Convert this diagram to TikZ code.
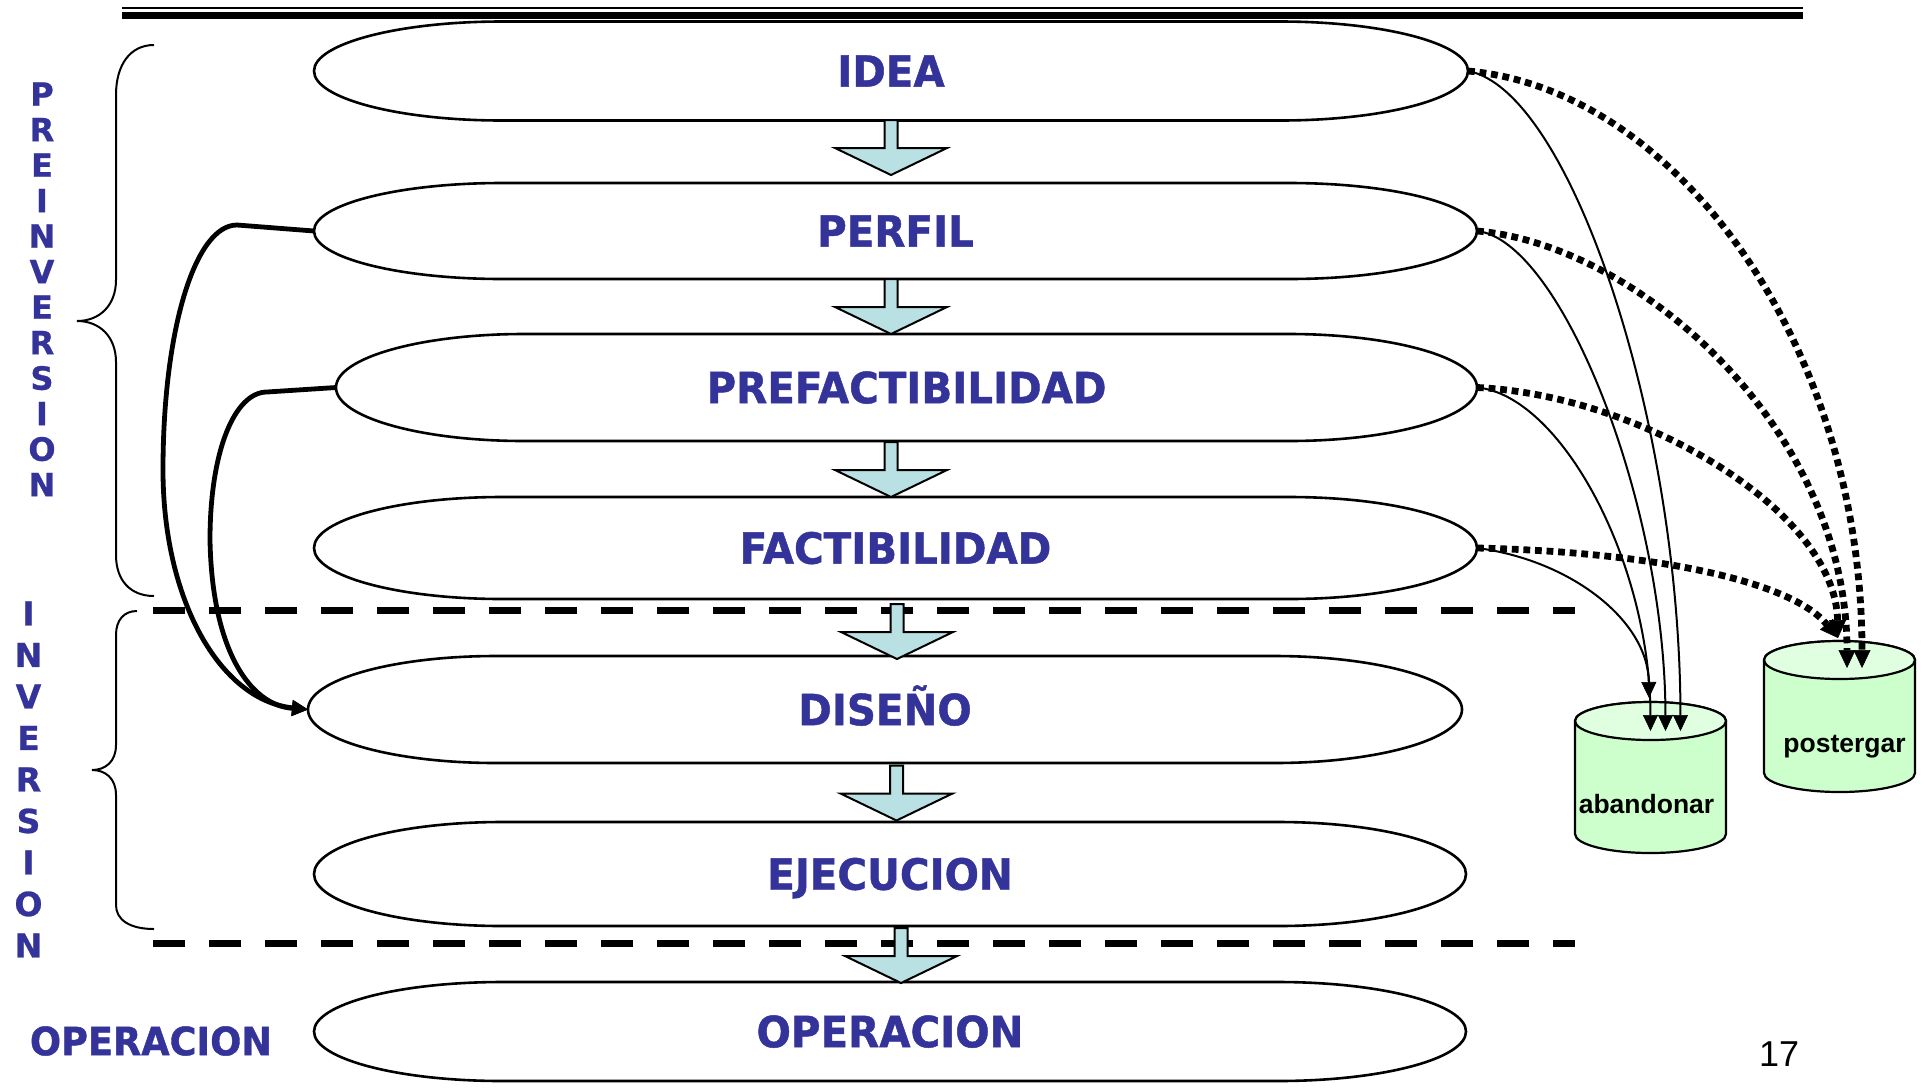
\documentclass[tikz,border=0pt]{standalone}
\usepackage{fontspec}
\setmainfont{Liberation Sans}
\newfontfamily\lblfont{DejaVu Sans}[FakeStretch=0.94,FakeBold=1]
\newfontfamily\vfont{DejaVu Sans}[FakeBold=0.8]
\usetikzlibrary{arrows.meta,calc}
\definecolor{lbl}{HTML}{333399}
\definecolor{arrfill}{HTML}{B9E1E3}
\definecolor{cylbody}{HTML}{CCFFCC}
\definecolor{cyltop}{HTML}{E0FFE0}
\newcommand\pillout[1]{%
  \draw[pillline] let \p1=(#1.north), \p2=(#1.south), \n1={(\y1-\y2)/2} in
    ([xshift=94pt]#1.north west) -- ([xshift=-94pt]#1.north east)
    arc[start angle=90,end angle=-90,x radius=94pt,y radius=\n1]
    -- ([xshift=94pt]#1.south west)
    arc[start angle=270,end angle=90,x radius=94pt,y radius=\n1] -- cycle;}
\newcommand\cylout[1]{%
  \draw[cylline,fill=cylbody] ([yshift=-9.5pt]#1.north west) -- ([yshift=9.5pt]#1.south west)
    arc[start angle=180,end angle=360,x radius=37.75pt,y radius=9.5pt]
    -- ([yshift=-9.5pt]#1.north east)
    arc[start angle=0,end angle=180,x radius=37.75pt,y radius=9.5pt] -- cycle;
  \draw[cylline,fill=cyltop] ([yshift=-9.5pt]#1.north) ellipse[x radius=37.75pt,y radius=9.5pt];}
\begin{document}
\begin{tikzpicture}[x=0.5pt,y=-0.5pt,
  pill/.style={rectangle,inner sep=0pt,outer sep=0pt,text height=15.7pt,text depth=0pt,
    font=\lblfont\bfseries\fontsize{21.5}{24}\selectfont,text=lbl},
  pillline/.style={line width=1.3pt},
  cylbox/.style={rectangle,inner sep=0pt,outer sep=0pt,minimum width=75.5pt,minimum height=75.5pt},
  cylline/.style={line width=1.1pt},
  cyltext/.style={inner sep=0pt,font=\bfseries\fontsize{13.25}{15}\selectfont},
  sepline/.style={line width=3.5pt,dash pattern=on 16pt off 12pt},
  braceline/.style={line width=1pt},
  thinconn/.style={line width=1pt,-{Triangle[length=8pt,width=7.5pt,line width=0.3pt]}},
  dotconn/.style={line width=3.4pt,dash pattern=on 3.4pt off 2.4pt,-{Triangle[length=9pt,width=8.5pt,line width=0.3pt]}},
  thickconn/.style={line width=2.4pt,-{Triangle[length=8pt,width=8pt,line width=0.3pt]}},
  downblock/.pic={\draw[line width=1pt,fill=arrfill,line join=miter]
    (-6.5,0) -- (6.5,0) -- (6.5,28) -- (56,28) -- (0,55) -- (-56,28) -- (-6.5,28) -- cycle;}
]
\useasboundingbox (0,0) rectangle (1932,1088);

% top rule
\draw[line width=0.75pt] (122,8) -- (1803,8);
\draw[line width=3.35pt] (122,15.7) -- (1803,15.7);

% separators
\draw[sepline] (153,610) -- (1575,610);
\draw[sepline] (153,943) -- (1575,943);

% stage nodes
\node[pill,minimum width=577pt,minimum height=49.5pt] (idea) at (891,71) {IDEA};
\node[pill,minimum width=581.5pt,minimum height=48pt] (perfil) at (895.5,231) {PERFIL};
\node[pill,minimum width=570.5pt,minimum height=53.5pt] (prefact) at (906.5,387.5) {PREFACTIBILIDAD};
\node[pill,minimum width=581.5pt,minimum height=51pt] (fact) at (895.5,548) {FACTIBILIDAD};
\node[pill,minimum width=577pt,minimum height=53.5pt] (diseno) at (885,709.5) {DISEÑO};
\node[pill,minimum width=576pt,minimum height=52pt] (ejec) at (890,874) {EJECUCION};
\node[pill,minimum width=576pt,minimum height=49.5pt] (oper) at (890,1031.5) {OPERACION};
\pillout{idea}
\pillout{perfil}
\pillout{prefact}
\pillout{fact}
\pillout{diseno}
\pillout{ejec}
\pillout{oper}

% block arrows
\pic at (891,120) {downblock};
\pic at (891,279) {downblock};
\pic at (891,442) {downblock};
\pic at (897,604) {downblock};
\pic at (896.5,765.5) {downblock};
\pic at (901,928) {downblock};

% braces
\draw[braceline] (154,45) .. controls (130,45) and (116,65) .. (116,95) -- (116,280)
  .. controls (116,305) and (100,321) .. (77,321)
  .. controls (100,321) and (116,337) .. (116,362) -- (116,555)
  .. controls (116,580) and (130,596) .. (154,596);
\draw[braceline] (137,611) .. controls (124,611) and (116,620) .. (116,635) -- (116,745)
  .. controls (116,762) and (105,770) .. (92,770)
  .. controls (105,770) and (116,778) .. (116,795) -- (116,905)
  .. controls (116,920) and (130,929) .. (154,929);

% side labels
\node[anchor=north,inner sep=0pt,align=center,text=lbl,font=\vfont\bfseries\fontsize{16}{17.75}\selectfont] (prein) at (42,82) {P\\R\\E\\I\\N\\V\\E\\R\\S\\I\\O\\N};
\node[anchor=north,inner sep=0pt,align=center,text=lbl,font=\vfont\bfseries\fontsize{16.5}{20.75}\selectfont] (inver) at (28.5,601) {I\\N\\V\\E\\R\\S\\I\\O\\N};
\node[inner sep=0pt,text height=14.2pt,text depth=0pt,text=lbl,font=\lblfont\bfseries\fontsize{19.5}{22}\selectfont] (operlbl) at (151,1041) {OPERACION};
\node[inner sep=0pt,text height=12.9pt,text depth=0pt,font=\fontsize{18}{20}\selectfont] (pnum) at (1779,1054) {17};

% cylinders
\node[cylbox] (aband) at (1650.5,777.5) {};
\node[cylbox] (post) at (1839.5,716.5) {};
\cylout{aband}
\cylout{post}
\node[cyltext,anchor=base] (abandt) at (1646.5,813) {abandonar};
\node[cyltext,anchor=base] (postt) at (1844.5,752) {postergar};

\coordinate (a1) at ([xshift=15pt,yshift=-14.5pt]aband.north);
\coordinate (a2) at ([xshift=7.5pt,yshift=-14.5pt]aband.north);
\coordinate (a3) at ([yshift=-14.5pt]aband.north);
\coordinate (a4) at ([xshift=-0.75pt,yshift=2pt]aband.north);
\coordinate (p1) at ([xshift=11.25pt,yshift=-13.5pt]post.north);
\coordinate (p2) at ([xshift=3.75pt,yshift=-13.5pt]post.north);
\coordinate (p3) at ([xshift=-0.75pt,yshift=1.5pt]post.north);

% abandon connectors
\draw[thinconn] (idea.east) .. controls (1570,90) and (1680,420) .. (a1);
\draw[thinconn] (perfil.east) .. controls (1560,240) and (1665,500) .. (a2);
\draw[thinconn] (prefact.east) .. controls (1560,395) and (1650,560) .. (a3);
\draw[thinconn] (fact.east) .. controls (1570,560) and (1648,620) .. (a4);

% postpone connectors
\draw[dotconn] (idea.east) .. controls (1680,90) and (1862,350) .. (p1);
\draw[dotconn] (perfil.east) .. controls (1640,245) and (1847,430) .. (p2);
\draw[dotconn] (prefact.east) .. controls (1640,395) and (1835,510) .. (p3);
\draw[dotconn] (fact.east) .. controls (1650,552) and (1790,580) .. (p3);

% left feedback connectors
\draw[thickconn] (perfil.west) -- (237,225) .. controls (195,225) and (163,330) .. (163,470)
  .. controls (163,600) and (220,700) .. (diseno.west);
\draw[thickconn] (prefact.west) -- (267,392) .. controls (235,392) and (210,450) .. (210,540)
  .. controls (212,650) and (250,705) .. (diseno.west);
\end{tikzpicture}
\end{document}
